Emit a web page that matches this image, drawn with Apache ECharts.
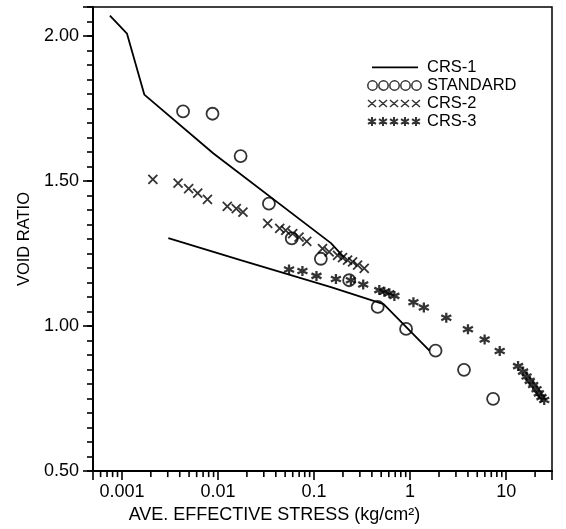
<!DOCTYPE html>
<html><head><meta charset="utf-8">
<script src="https://cdn.jsdelivr.net/npm/echarts@6/dist/echarts.min.js"></script>
<style>html,body{margin:0;padding:0;background:#fff}#c{width:566px;height:529px}</style>
</head><body><div id="c"></div>
<script>
// ---- axis ticks ----
const xTickValues = [0.001, 0.01, 0.1, 1, 10];
const xTickLabels = ['0.001', '0.01', '0.1', '1', '10'];
const xMinorTicks = [0.0006, 0.0007, 0.0008, 0.0009,
  0.002, 0.003, 0.004, 0.005, 0.006, 0.007, 0.008, 0.009,
  0.02, 0.03, 0.04, 0.05, 0.06, 0.07, 0.08, 0.09,
  0.2, 0.3, 0.4, 0.5, 0.6, 0.7, 0.8, 0.9,
  2, 3, 4, 5, 6, 7, 8, 9, 20];
const yTickValues = [0.5, 1.0, 1.5, 2.0];
const yTickLabels = ['0.50', '1.00', '1.50', '2.00'];

// ---- data ----
const crs1LoadX = [0.00075, 0.00113, 0.00171, 0.00898, 0.150, 0.205];
const crs1LoadY = [2.070, 2.008, 1.798, 1.595, 1.286, 1.237];
const crs1ReloadX = [0.00304, 0.0172, 0.150, 0.530, 1.59];
const crs1ReloadY = [1.303, 1.227, 1.134, 1.076, 0.915];

const stdX = [0.00433, 0.00877, 0.0172, 0.0339, 0.0586, 0.1177, 0.232, 0.460, 0.908, 1.84, 3.64, 7.31];
const stdY = [1.740, 1.732, 1.586, 1.422, 1.302, 1.232, 1.158, 1.066, 0.990, 0.915, 0.849, 0.749];

const crs2X = [0.00210, 0.00384, 0.00495, 0.00615, 0.00777, 0.0125, 0.0155, 0.0182, 0.0329, 0.0439, 0.0507,
  0.0600, 0.0698, 0.0840, 0.1225, 0.1436, 0.1758, 0.198, 0.2235, 0.252, 0.284, 0.333];
const crs2Y = [1.506, 1.493, 1.474, 1.458, 1.437, 1.413, 1.405, 1.393, 1.354, 1.337, 1.330,
  1.319, 1.307, 1.292, 1.267, 1.256, 1.244, 1.236, 1.227, 1.221, 1.210, 1.199];

const crs3X = [0.0549, 0.0757, 0.106, 0.169, 0.242, 0.325, 0.478, 0.539, 0.608, 0.686, 1.083, 1.39, 2.38,
  4.00, 5.97, 8.57, 13.3, 15.0, 16.3, 17.6, 19.1, 20.7, 21.9, 23.3, 24.9];
const crs3Y = [1.195, 1.190, 1.173, 1.162, 1.158, 1.143, 1.124, 1.118, 1.113, 1.104, 1.082, 1.064, 1.029,
  0.989, 0.954, 0.914, 0.862, 0.843, 0.826, 0.811, 0.797, 0.782, 0.768, 0.755, 0.745];

const seriesNames = ['CRS-1', 'STANDARD', 'CRS-2', 'CRS-3'];

// ---- helpers ----
const zip = (xs, ys) => xs.map((x, i) => [x, ys[i]]);
function pick(values, labels, v) {
  for (let i = 0; i < values.length; i++) if (Math.abs(v / values[i] - 1) < 1e-6) return labels[i];
  return '';
}
const FONT = 'Liberation Sans';
const crossPath = 'path://M0,0 L10,10 M10,0 L0,10';
const starPath = 'path://M5,0 L5,10 M0.7,2.5 L9.3,7.5 M0.7,7.5 L9.3,2.5';
function repeatIcon(build) {
  let p = 'path://M0,0 M55,11 ';
  for (let i = 0; i < 5; i++) p += build(i * 11) + ' ';
  return p;
}
const circlesIcon = repeatIcon(o => `M${o + 0.8},5.5 A4.7,4.7 0 1,0 ${o + 10.2},5.5 A4.7,4.7 0 1,0 ${o + 0.8},5.5`);
const crossesIcon = repeatIcon(o => `M${o + 1},2 L${o + 9},9 M${o + 9},2 L${o + 1},9`);
const starsIcon = repeatIcon(o => `M${o + 5},1 L${o + 5},10 M${o + 1},3.2 L${o + 9},7.8 M${o + 1},7.8 L${o + 9},3.2`);
const lineIcon = 'path://M0,0 M55,11 M5,4.5 L51,4.5 L51,6.3 L5,6.3 Z';

const chart = echarts.init(document.getElementById('c'), null, {renderer: 'canvas'});
chart.setOption({
  animation: false,
  backgroundColor: '#fff',
  textStyle: {fontFamily: FONT, color: '#000'},
  grid: {left: 93, right: 14, top: 7, bottom: 57, show: true, borderColor: '#000', borderWidth: 1.5},
  legend: {
    orient: 'vertical', left: 361, top: 54, itemWidth: 55, itemHeight: 11, itemGap: 1,
    selectedMode: false,
    textStyle: {fontFamily: FONT, fontSize: 16.5, color: '#000', lineHeight: 16, padding: [0, 0, 0, 0]},
    data: [
      {name: seriesNames[0], icon: lineIcon, itemStyle: {color: '#000', borderWidth: 0}},
      {name: seriesNames[1], icon: circlesIcon, itemStyle: {color: 'transparent', borderColor: '#000', borderWidth: 1.5}},
      {name: seriesNames[2], icon: crossesIcon, itemStyle: {color: 'transparent', borderColor: '#000', borderWidth: 1.5}},
      {name: seriesNames[3], icon: starsIcon, itemStyle: {color: 'transparent', borderColor: '#000', borderWidth: 2}}
    ]
  },
  xAxis: {
    type: 'log', logBase: 10, min: 0.0005, max: 30,
    name: 'AVE. EFFECTIVE STRESS (kg/cm²)', nameLocation: 'middle', nameGap: 27,
    nameTextStyle: {fontFamily: FONT, fontSize: 18, color: '#000', padding: [0, 96, 0, 0]},
    axisLine: {show: true, lineStyle: {color: '#000', width: 2}},
    axisTick: {show: true, length: 9, lineStyle: {color: '#000', width: 1.6}},
    axisLabel: {fontFamily: FONT, fontSize: 18, color: '#000', margin: 12,
      formatter: v => pick(xTickValues, xTickLabels, v)},
    splitLine: {show: false}
  },
  yAxis: [{
    type: 'value', min: 0.5, max: 2.1, interval: 0.05, position: 'left',
    name: 'VOID RATIO', nameLocation: 'middle', nameGap: 60,
    nameTextStyle: {fontFamily: FONT, fontSize: 16.5, color: '#000'},
    axisLine: {show: true, lineStyle: {color: '#000', width: 2}},
    axisTick: {show: true, interval: 0, length: 6, lineStyle: {color: '#000', width: 1.6}},
    axisLabel: {interval: 0, fontFamily: FONT, fontSize: 18, color: '#000', margin: 14,
      formatter: v => pick(yTickValues, yTickLabels, v)},
    splitLine: {show: false}
  }, {
    type: 'value', min: 0.5, max: 2.1, interval: 0.5, position: 'left', offset: 0,
    axisLine: {show: false},
    axisTick: {show: true, interval: 0, length: 10, lineStyle: {color: '#000', width: 1.6}},
    axisLabel: {show: false},
    splitLine: {show: false}
  }],
  series: [
    {name: seriesNames[0], type: 'line', data: zip(crs1LoadX, crs1LoadY), symbol: 'none',
      lineStyle: {color: '#000', width: 1.8}, itemStyle: {color: '#000'}, z: 2},
    {name: seriesNames[0], type: 'line', data: zip(crs1ReloadX, crs1ReloadY), symbol: 'none',
      lineStyle: {color: '#000', width: 1.8}, itemStyle: {color: '#000'}, z: 2},
    {name: seriesNames[1], type: 'scatter', data: zip(stdX, stdY), symbol: 'circle', symbolSize: 12,
      itemStyle: {color: 'transparent', borderColor: '#000', borderWidth: 1.8}, z: 3},
    {name: seriesNames[2], type: 'scatter', data: zip(crs2X, crs2Y), symbol: crossPath, symbolSize: 9,
      itemStyle: {color: 'transparent', borderColor: '#000', borderWidth: 1.8}, z: 3},
    {name: seriesNames[3], type: 'scatter', data: zip(crs3X, crs3Y), symbol: starPath, symbolSize: 10,
      itemStyle: {color: 'transparent', borderColor: '#000', borderWidth: 2.3}, z: 3},
    {name: 'minor-x-ticks', type: 'custom', silent: true, clip: false, z: 4,
      data: xMinorTicks.map(v => [v, 0.5]),
      renderItem: (params, api) => {
        const p = api.coord([api.value(0), api.value(1)]);
        return {type: 'line', shape: {x1: p[0], y1: p[1], x2: p[0], y2: p[1] + 6},
          style: {stroke: '#000', lineWidth: 1.6}};
      }}
  ]
});
</script>
</body></html>
